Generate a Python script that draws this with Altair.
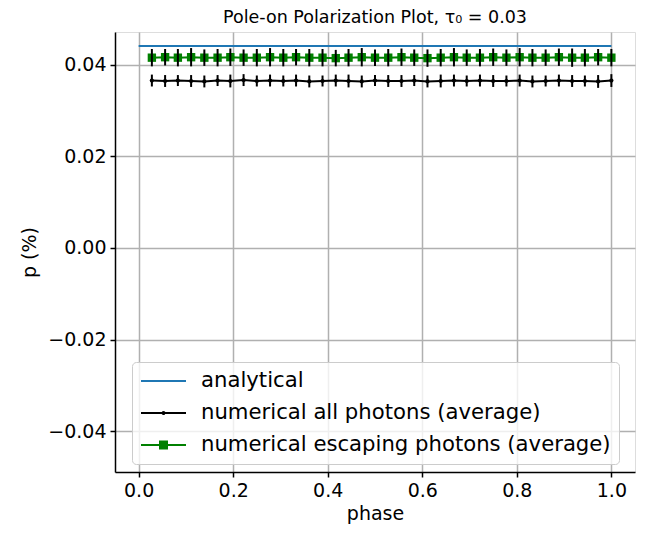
import altair as alt
import pandas as pd

phase = [0.028, 0.056, 0.083, 0.111, 0.139, 0.167, 0.194, 0.222, 0.250, 0.278,
         0.306, 0.333, 0.361, 0.389, 0.417, 0.444, 0.472, 0.500, 0.528, 0.556,
         0.583, 0.611, 0.639, 0.667, 0.694, 0.722, 0.750, 0.778, 0.806, 0.833,
         0.861, 0.889, 0.917, 0.944, 0.972, 1.000]

all_p = [0.0366, 0.0365, 0.0366, 0.0365, 0.0364, 0.0366, 0.0365, 0.0367, 0.0365, 0.0366,
         0.0365, 0.0366, 0.0364, 0.0365, 0.0366, 0.0365, 0.0364, 0.0366, 0.0365, 0.0365,
         0.0366, 0.0364, 0.0365, 0.0366, 0.0365, 0.0366, 0.0365, 0.0365, 0.0366, 0.0364,
         0.0365, 0.0366, 0.0365, 0.0365, 0.0364, 0.0366]
all_err = [0.0013, 0.0013, 0.0012, 0.0013, 0.0013, 0.0012, 0.0014, 0.0013, 0.0012, 0.0013,
           0.0012, 0.0013, 0.0013, 0.0012, 0.0013, 0.0014, 0.0013, 0.0012, 0.0013, 0.0013,
           0.0012, 0.0013, 0.0014, 0.0013, 0.0012, 0.0013, 0.0013, 0.0012, 0.0013, 0.0013,
           0.0012, 0.0013, 0.0013, 0.0012, 0.0014, 0.0014]

esc_p = [0.0416, 0.0417, 0.0416, 0.0417, 0.0416, 0.0416, 0.0417, 0.0416, 0.0416, 0.0417,
         0.0416, 0.0417, 0.0416, 0.0416, 0.0415, 0.0416, 0.0417, 0.0416, 0.0416, 0.0417,
         0.0416, 0.0415, 0.0416, 0.0417, 0.0416, 0.0416, 0.0417, 0.0416, 0.0417, 0.0416,
         0.0416, 0.0417, 0.0416, 0.0416, 0.0417, 0.0416]
esc_err = [0.0019, 0.0018, 0.0019, 0.0020, 0.0018, 0.0019, 0.0019, 0.0018, 0.0019, 0.0020,
           0.0019, 0.0018, 0.0019, 0.0019, 0.0018, 0.0019, 0.0020, 0.0018, 0.0019, 0.0019,
           0.0018, 0.0019, 0.0019, 0.0020, 0.0018, 0.0019, 0.0019, 0.0018, 0.0020, 0.0019,
           0.0018, 0.0019, 0.0020, 0.0019, 0.0018, 0.0019]

ana_x = [0.0, 1.0]
ana_p = [0.04415, 0.04415]

series_names = ["analytical", "numerical all photons (average)", "numerical escaping photons (average)"]
series_colors = ["#1f77b4", "black", "green"]
legend_shapes = [
    "M-1,0H3.5",
    "M-1,0H3.5M1.35,0A0.1,0.1,0,1,1,1.15,0A0.1,0.1,0,1,1,1.35,0Z",
    "M-1,0H3.5M0.9,-0.35H1.6V0.35H0.9Z",
]

df_all = pd.DataFrame({"phase": phase, "p": all_p,
                       "lo": [v - e for v, e in zip(all_p, all_err)],
                       "hi": [v + e for v, e in zip(all_p, all_err)]})
df_esc = pd.DataFrame({"phase": phase, "p": esc_p,
                       "lo": [v - e for v, e in zip(esc_p, esc_err)],
                       "hi": [v + e for v, e in zip(esc_p, esc_err)]})
df_ana = pd.DataFrame({"phase": ana_x, "p": ana_p})
df_leg = pd.DataFrame({"series": series_names})

FONT = "DejaVu Sans"
x_scale = alt.Scale(domain=[-0.05, 1.05], nice=False, zero=False)
y_scale = alt.Scale(domain=[-0.04896, 0.04721], nice=False, zero=False)

x_axis = alt.Axis(values=[0, 0.2, 0.4, 0.6, 0.8, 1.0], format=".1f", title="phase",
                  grid=True, gridColor="#b0b0b0", gridWidth=1.5,
                  tickColor="black", tickSize=5, tickWidth=1.5,
                  domainColor="black", domainWidth=1.5,
                  labelFontSize=19, labelColor="black", labelFont=FONT, labelPadding=4,
                  titleFontSize=19, titleFontWeight="normal", titleColor="black",
                  titleFont=FONT, titlePadding=4, labelFlush=False)
y_axis = alt.Axis(values=[-0.04, -0.02, 0.0, 0.02, 0.04], format=".2f", title="p (%)",
                  grid=True, gridColor="#b0b0b0", gridWidth=1.5,
                  tickColor="black", tickSize=5, tickWidth=1.5,
                  domainColor="black", domainWidth=1.5,
                  labelFontSize=19, labelColor="black", labelFont=FONT, labelPadding=4,
                  titleFontSize=19, titleFontWeight="normal", titleColor="black",
                  titleFont=FONT, titlePadding=8, labelFlush=False)

X = alt.X("phase:Q", scale=x_scale, axis=x_axis)
Y = alt.Y("p:Q", scale=y_scale, axis=y_axis)
Xn = alt.X("phase:Q", scale=x_scale)
Yn = alt.Y("p:Q", scale=y_scale)

ana = alt.Chart(df_ana).mark_line(color="#1f77b4", strokeWidth=2).encode(x=X, y=Y)

all_line = alt.Chart(df_all).mark_line(color="black", strokeWidth=2).encode(x=Xn, y=Yn)
all_bars = alt.Chart(df_all).mark_rule(color="black", strokeWidth=2).encode(
    x=Xn, y=alt.Y("lo:Q", scale=y_scale), y2="hi:Q")
all_pts = alt.Chart(df_all).mark_point(filled=True, shape="circle", size=18,
                                       color="black", opacity=1).encode(x=Xn, y=Yn)

esc_line = alt.Chart(df_esc).mark_line(color="green", strokeWidth=2).encode(x=Xn, y=Yn)
esc_pts = alt.Chart(df_esc).mark_point(filled=True, shape="square", size=70,
                                       color="green", opacity=1).encode(x=Xn, y=Yn)
esc_bars = alt.Chart(df_esc).mark_rule(color="black", strokeWidth=2).encode(
    x=Xn, y=alt.Y("lo:Q", scale=y_scale), y2="hi:Q")

leg = alt.Legend(title=None, orient="none", legendX=17, legendY=330,
                 symbolSize=400, symbolStrokeWidth=2,
                 labelFontSize=21.2, labelFont=FONT, labelColor="black", labelOffset=39,
                 labelLimit=1000,
                 padding=8, rowPadding=10, fillColor="rgba(255,255,255,0.8)",
                 strokeColor="#cccccc", cornerRadius=4)
sdom = alt.Scale(domain=series_names, range=series_colors)
legend_layer = alt.Chart(df_leg).transform_filter("false").mark_point(
    opacity=1, strokeWidth=2).encode(
    stroke=alt.Stroke("series:N", scale=sdom, legend=leg),
    fill=alt.Fill("series:N", scale=sdom, legend=leg),
    shape=alt.Shape("series:N", scale=alt.Scale(domain=series_names, range=legend_shapes), legend=leg),
)

chart = alt.layer(ana, all_line, all_bars, all_pts, esc_line, esc_pts, esc_bars, legend_layer).properties(
    width=520, height=440,
    title=alt.TitleParams("Pole-on Polarization Plot, τ₀ = 0.03", fontSize=17.5, font=FONT,
                          fontWeight="normal", color="black", offset=6),
    autosize=alt.AutoSizeParams(type="none"),
    padding={"left": 107, "top": 24, "right": 9, "bottom": 53},
).configure_view(stroke="black", strokeWidth=1.5).configure(font=FONT)

chart.save("out.html", embed_options={"renderer": "svg", "actions": False})
